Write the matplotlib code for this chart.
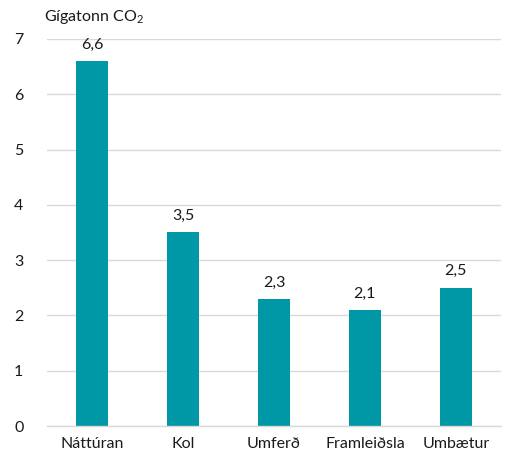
import matplotlib
matplotlib.use("Agg")
import matplotlib.pyplot as plt

categories = ["Náttúran", "Kol", "Umferð", "Framleiðsla", "Umbætur"]
values = [6.6, 3.5, 2.3, 2.1, 2.5]
value_labels = ["6,6", "3,5", "2,3", "2,1", "2,5"]

plt.rcParams['font.family'] = ['Lato', 'DejaVu Sans']
plt.rcParams['font.size'] = 11.5
plt.rcParams['mathtext.fontset'] = 'custom'
plt.rcParams['mathtext.rm'] = 'Lato'
plt.rcParams['mathtext.default'] = 'regular'

fig = plt.figure(figsize=(5.1, 4.57), dpi=100)
ax = fig.add_axes([0.0912, 0.0678, 0.8918, 0.8469])

bar_color = '#0097A7'
x = range(len(categories))
ax.bar(x, values, width=0.35, color=bar_color, zorder=2)

for xi, v, lab in zip(x, values, value_labels):
    ax.text(xi, v + 0.17, lab, ha='center', va='bottom', color='#1a1a1a')

ax.set_xlim(-0.5, len(categories) - 0.5)
ax.set_ylim(0, 7)
ax.set_yticks(range(0, 8))
ax.set_xticks(list(x))
ax.set_xticklabels(categories)
ax.yaxis.grid(True, color='#d9d9d9', linewidth=1, zorder=0)
ax.set_axisbelow(True)
for s in ['top', 'right', 'left']:
    ax.spines[s].set_visible(False)
ax.spines['bottom'].set_color('#d9d9d9')
ax.spines['bottom'].set_linewidth(1)
ax.tick_params(axis='both', length=0, colors='#1a1a1a')
ax.tick_params(axis='y', pad=20)
ax.tick_params(axis='x', pad=8)
for t in ax.get_yticklabels():
    t.set_horizontalalignment('center')

fig.text(0.086, 0.962, "Gígatonn CO$_2$", color='#1a1a1a', ha='left', va='center')

fig.savefig("out.png", dpi=100)
